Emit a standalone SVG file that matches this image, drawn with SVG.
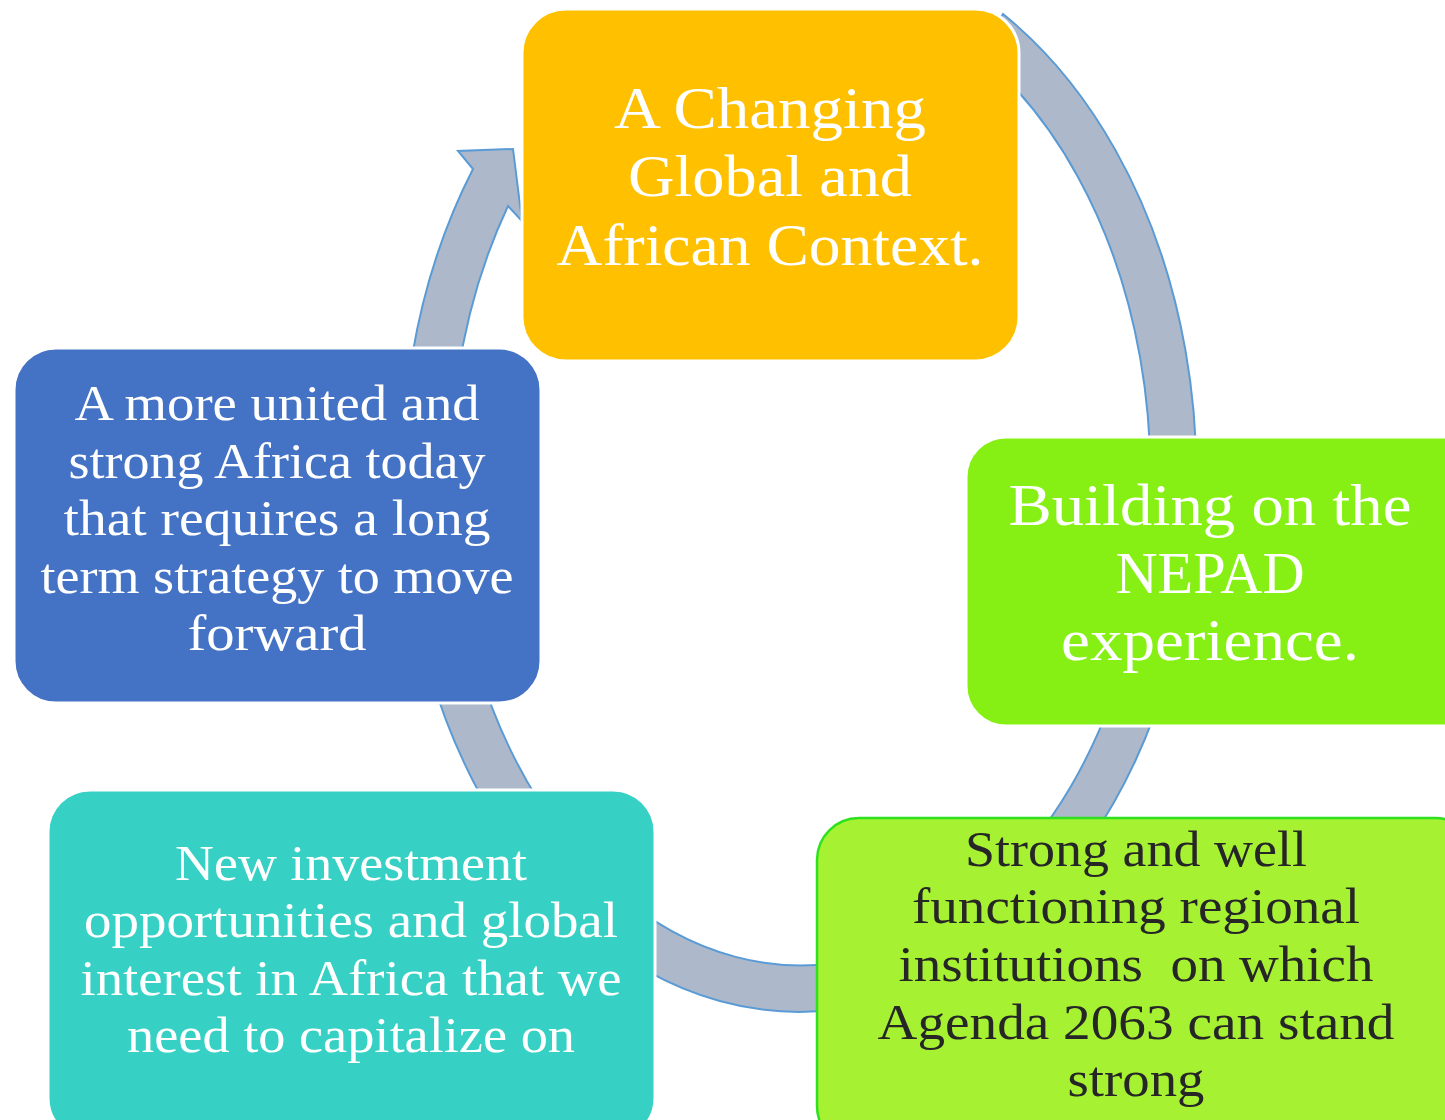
<svg xmlns="http://www.w3.org/2000/svg" width="1445" height="1120" viewBox="0 0 1445 1120">
<style>
.box{stroke:#FFFFFF;stroke-width:3}
.t{font-family:"Liberation Serif","Times New Roman",serif;text-anchor:middle}
.big{font-size:60px;fill:#FFFFFF}
.sm{font-size:51px;fill:#FFFFFF}
.dk{font-size:51px;fill:#262626}
.band{fill:#ADB9CA;stroke:#5B9BD5;stroke-width:2;stroke-linejoin:miter}
</style>
<rect width="1445" height="1120" fill="#FFFFFF"/>
<g id="connectors">
<path class="band" d="M1003,14 A397,537 0 1,1 473,169 L458,151 L513,149 L522,221 L508,206 A350,490 0 1,0 979,54 Z"/>
</g>
<g id="node-context">
<rect class="box" x="522" y="9" width="497" height="352" rx="44" fill="#FFC000"/>
<text class="t big" x="770" y="128" textLength="312" lengthAdjust="spacingAndGlyphs">A Changing</text>
<text class="t big" x="770" y="196" textLength="284" lengthAdjust="spacingAndGlyphs">Global and</text>
<text class="t big" x="770" y="265" textLength="427" lengthAdjust="spacingAndGlyphs">African Context.</text>
</g>
<g id="node-nepad">
<rect class="box" x="966" y="437" width="520" height="289" rx="40" fill="#86F014"/>
<text class="t big" x="1210" y="525" textLength="403" lengthAdjust="spacingAndGlyphs">Building on the</text>
<text class="t big" x="1210" y="593" textLength="189" lengthAdjust="spacingAndGlyphs">NEPAD</text>
<text class="t big" x="1210" y="660" textLength="298" lengthAdjust="spacingAndGlyphs">experience.</text>
</g>
<g id="node-institutions">
<rect x="817" y="818" width="660" height="330" rx="42" fill="#A6F232" stroke="#2EE01E" stroke-width="2.5"/>
<text class="t dk" x="1136" y="866" textLength="342" lengthAdjust="spacingAndGlyphs">Strong and well</text>
<text class="t dk" x="1136" y="923" textLength="448" lengthAdjust="spacingAndGlyphs">functioning regional</text>
<text class="t dk" x="1136" y="981" textLength="475" lengthAdjust="spacingAndGlyphs" xml:space="preserve">institutions  on which</text>
<text class="t dk" x="1136" y="1039" textLength="517" lengthAdjust="spacingAndGlyphs">Agenda 2063 can stand</text>
<text class="t dk" x="1136" y="1096" textLength="137" lengthAdjust="spacingAndGlyphs">strong</text>
</g>
<g id="node-investment">
<rect class="box" x="48" y="790" width="607" height="350" rx="42" fill="#36D1C4"/>
<text class="t sm" x="351" y="880" textLength="352" lengthAdjust="spacingAndGlyphs">New investment</text>
<text class="t sm" x="351" y="937" textLength="534" lengthAdjust="spacingAndGlyphs">opportunities and global</text>
<text class="t sm" x="351" y="995" textLength="541" lengthAdjust="spacingAndGlyphs">interest in Africa that we</text>
<text class="t sm" x="351" y="1052" textLength="448" lengthAdjust="spacingAndGlyphs">need to capitalize on</text>
</g>
<g id="node-united">
<rect class="box" x="14" y="348" width="527" height="355" rx="42" fill="#4472C4"/>
<text class="t sm" x="277" y="420" textLength="405" lengthAdjust="spacingAndGlyphs">A more united and</text>
<text class="t sm" x="277" y="478" textLength="417" lengthAdjust="spacingAndGlyphs">strong Africa today</text>
<text class="t sm" x="277" y="535" textLength="427" lengthAdjust="spacingAndGlyphs">that requires a long</text>
<text class="t sm" x="277" y="593" textLength="473" lengthAdjust="spacingAndGlyphs">term strategy to move</text>
<text class="t sm" x="277" y="650" textLength="179" lengthAdjust="spacingAndGlyphs">forward</text>
</g>
</svg>
